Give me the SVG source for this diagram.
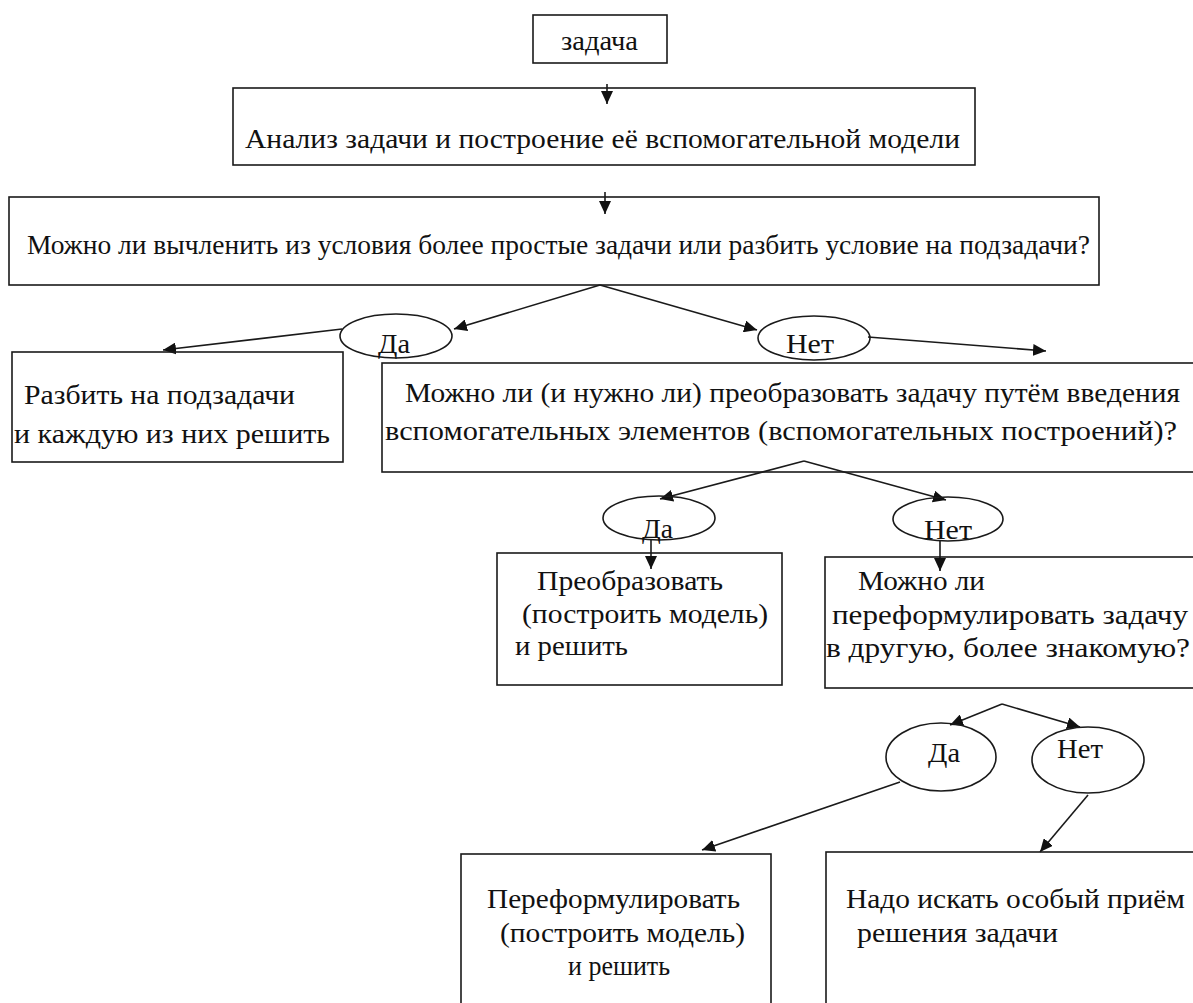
<svg xmlns="http://www.w3.org/2000/svg" width="1193" height="1003" viewBox="0 0 1193 1003">
<style>
.box{fill:none;stroke:#1a1a1a;stroke-width:1.6}
.ell{fill:none;stroke:#1a1a1a;stroke-width:1.6}
.t{font-family:'Liberation Serif','DejaVu Serif',serif;font-size:28px;fill:#111}
.c{fill:none;stroke:#1a1a1a;stroke-width:1.6}
</style>
<defs>
<marker id="ah" markerUnits="userSpaceOnUse" markerWidth="14" markerHeight="12" refX="13" refY="6" orient="auto">
<path d="M0,0 L13,6 L0,12 z" fill="#111"/>
</marker>
</defs>
<rect width="1193" height="1003" fill="#fff"/>
<g id="connectors">
<line class="c" x1="607" y1="84" x2="607" y2="104" marker-end="url(#ah)"/>
<line class="c" x1="605" y1="192" x2="605" y2="214" marker-end="url(#ah)"/>
<line class="c" x1="600" y1="285" x2="454" y2="329" marker-end="url(#ah)"/>
<line class="c" x1="600" y1="285" x2="757" y2="330" marker-end="url(#ah)"/>
<line class="c" x1="342" y1="329" x2="163" y2="350" marker-end="url(#ah)"/>
<line class="c" x1="868" y1="337" x2="1046" y2="351" marker-end="url(#ah)"/>
<line class="c" x1="804" y1="461" x2="660" y2="499" marker-end="url(#ah)"/>
<line class="c" x1="804" y1="461" x2="946" y2="500" marker-end="url(#ah)"/>
<line class="c" x1="651" y1="540" x2="651" y2="569" marker-end="url(#ah)"/>
<line class="c" x1="940" y1="541" x2="940" y2="571" marker-end="url(#ah)"/>
<line class="c" x1="1002" y1="704" x2="950" y2="725" marker-end="url(#ah)"/>
<line class="c" x1="1002" y1="704" x2="1080" y2="727" marker-end="url(#ah)"/>
<line class="c" x1="900" y1="782" x2="702" y2="850" marker-end="url(#ah)"/>
<line class="c" x1="1088" y1="795" x2="1040" y2="852" marker-end="url(#ah)"/>
</g>
<g id="n-zadacha"><rect class="box" x="533" y="15" width="134" height="48"/><text class="t" x="561" y="50" textLength="77" lengthAdjust="spacingAndGlyphs">задача</text></g>
<g id="n-analiz"><rect class="box" x="233" y="88" width="742" height="77"/><text class="t" x="245" y="148" textLength="715" lengthAdjust="spacingAndGlyphs">Анализ задачи и построение её вспомогательной модели</text></g>
<g id="n-q1"><rect class="box" x="9" y="197" width="1090" height="88"/><text class="t" x="27" y="254" textLength="1063" lengthAdjust="spacingAndGlyphs">Можно ли вычленить из условия более простые задачи или разбить условие на подзадачи?</text></g>
<g id="n-da1"><ellipse class="ell" cx="396" cy="336" rx="56" ry="22"/><text class="t" x="378" y="353" textLength="32" lengthAdjust="spacingAndGlyphs">Да</text></g>
<g id="n-net1"><ellipse class="ell" cx="814" cy="338" rx="56" ry="22"/><text class="t" x="786" y="353" textLength="48" lengthAdjust="spacingAndGlyphs">Нет</text></g>
<g id="n-razbit"><rect class="box" x="12" y="352" width="331" height="110"/><text class="t"><tspan x="24" y="404" textLength="271" lengthAdjust="spacingAndGlyphs">Разбить на подзадачи</tspan><tspan x="14" y="443" textLength="316" lengthAdjust="spacingAndGlyphs">и каждую из них решить</tspan></text></g>
<g id="n-q2"><rect class="box" x="382" y="363" width="820" height="109"/><text class="t"><tspan x="405" y="402" textLength="775" lengthAdjust="spacingAndGlyphs">Можно ли (и нужно ли) преобразовать задачу путём введения</tspan><tspan x="385" y="440" textLength="792" lengthAdjust="spacingAndGlyphs">вспомогательных элементов (вспомогательных построений)?</tspan></text></g>
<g id="n-da2"><ellipse class="ell" cx="659" cy="518" rx="56" ry="22"/><text class="t" x="642" y="538" textLength="31" lengthAdjust="spacingAndGlyphs">Да</text></g>
<g id="n-net2"><ellipse class="ell" cx="948" cy="519" rx="55" ry="22"/><text class="t" x="924" y="539" textLength="48" lengthAdjust="spacingAndGlyphs">Нет</text></g>
<g id="n-preobr"><rect class="box" x="497" y="553" width="285" height="132"/><text class="t"><tspan x="537" y="590" textLength="186" lengthAdjust="spacingAndGlyphs">Преобразовать</tspan><tspan x="522" y="623" textLength="246" lengthAdjust="spacingAndGlyphs">(построить модель)</tspan><tspan x="515" y="655" textLength="113" lengthAdjust="spacingAndGlyphs">и решить</tspan></text></g>
<g id="n-q3"><rect class="box" x="825" y="557" width="377" height="131"/><text class="t"><tspan x="858" y="590" textLength="127" lengthAdjust="spacingAndGlyphs">Можно ли</tspan><tspan x="832" y="624" textLength="356" lengthAdjust="spacingAndGlyphs">переформулировать задачу</tspan><tspan x="826" y="657" textLength="364" lengthAdjust="spacingAndGlyphs">в другую, более знакомую?</tspan></text></g>
<g id="n-da3"><ellipse class="ell" cx="941" cy="757" rx="55" ry="34"/><text class="t" x="928" y="762" textLength="32" lengthAdjust="spacingAndGlyphs">Да</text></g>
<g id="n-net3"><ellipse class="ell" cx="1088" cy="760" rx="56" ry="33"/><text class="t" x="1057" y="758" textLength="46" lengthAdjust="spacingAndGlyphs">Нет</text></g>
<g id="n-pereform"><rect class="box" x="461" y="854" width="310" height="160"/><text class="t"><tspan x="487" y="908" textLength="253" lengthAdjust="spacingAndGlyphs">Переформулировать</tspan><tspan x="500" y="942" textLength="245" lengthAdjust="spacingAndGlyphs">(построить модель)</tspan><tspan x="568" y="975" textLength="102" lengthAdjust="spacingAndGlyphs">и решить</tspan></text></g>
<g id="n-nado"><rect class="box" x="826" y="852" width="376" height="162"/><text class="t"><tspan x="846" y="908" textLength="339" lengthAdjust="spacingAndGlyphs">Надо искать особый приём</tspan><tspan x="857" y="942" textLength="201" lengthAdjust="spacingAndGlyphs">решения задачи</tspan></text></g>
</svg>
